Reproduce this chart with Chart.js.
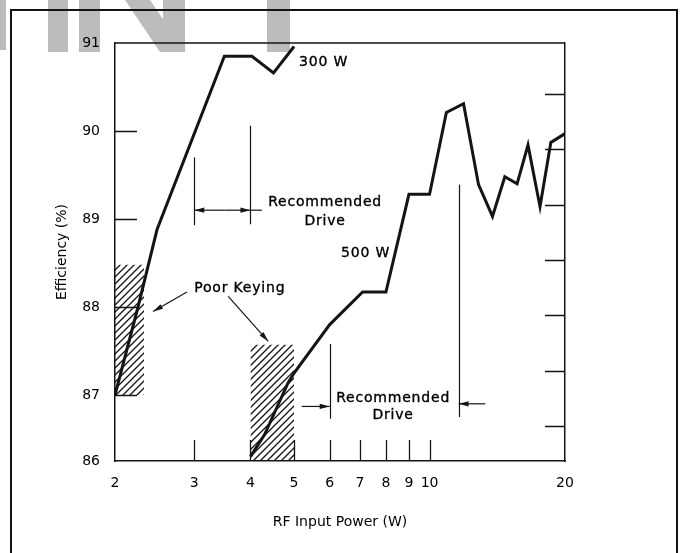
<!DOCTYPE html>
<html>
<head>
<meta charset="utf-8">
<script src="https://cdn.jsdelivr.net/npm/chart.js@4.4.1/dist/chart.umd.min.js"></script>
<style>
  html, body { margin: 0; padding: 0; background: #fff; }
  #wrap { width: 686px; height: 553px; }
</style>
</head>
<body>
<div id="wrap"><canvas id="effChart" width="686" height="553"></canvas></div>
<script>
// efficiency (%) against RF input power (W)
const power300 = [2, 2.25, 2.48, 3.5, 4.03, 4.5, 5.0];
const eff300 = [87.0, 88.0, 88.88, 90.85, 90.85, 90.66, 90.96];

const power500 = [4.0, 4.3, 4.85, 5.0, 6.0, 7.1, 8.0, 9.0, 10.0, 10.9, 11.9, 12.85, 13.8, 14.7, 15.65, 16.55, 17.6, 18.6, 20];
const eff500 = [86.3, 86.55, 87.14, 87.25, 87.8, 88.17, 88.17, 89.28, 89.28, 90.21, 90.31, 89.39, 89.03, 89.48, 89.4, 89.84, 89.14, 89.87, 89.97];

// hatched "poor keying" zones: [x from, x to, y from, y to]
const poorKeying300 = [2, 2.32, 87, 88.48];
const poorKeying500 = [4, 5, 86.25, 87.57];

const xTickValues = [2, 3, 4, 5, 6, 7, 8, 9, 10, 20];
const xInnerTicks = [3, 4, 5, 6, 7, 8, 9, 10];
// the printed axis squeezes 86..87, so the bottom edge carries the "86" label
const yTickValues = [86.25, 87, 88, 89, 90, 91];
const yTickLabels = ['86', '87', '88', '89', '90', '91'];
const yInnerTicks = [87, 88, 89, 90];
const rightTickValues = [0, 1, 2, 3, 4, 5, 6];

const INK = '#141414';
Chart.defaults.font.family = '"DejaVu Sans", sans-serif';
Chart.defaults.font.size = 14;
Chart.defaults.color = '#000';

function makeHatch() {
  const c = document.createElement('canvas');
  c.width = 7; c.height = 7;
  const g = c.getContext('2d');
  g.strokeStyle = INK;
  g.lineWidth = 1.3;
  g.beginPath();
  g.moveTo(-1, 8); g.lineTo(8, -1);
  g.moveTo(-1, 1); g.lineTo(1, -1);
  g.moveTo(6, 8); g.lineTo(8, 6);
  g.stroke();
  return g.createPattern(c, 'repeat');
}
const hatch = makeHatch();

function toPoints(xs, ys) {
  return xs.map((x, i) => ({ x: x, y: ys[i] }));
}

// notes drawn on top of the plot, placed in data coordinates
const notes = [
  { text: '300 W', x: 5.13, y: 90.78, align: 'left' },
  { text: '500 W', x: 6.36, y: 88.61, align: 'left' },
  { text: 'Poor Keying', x: 3.0, y: 88.21, align: 'left' },
  { text: 'Recommended', x: 5.86, y: 89.19, align: 'center' },
  { text: 'Drive', x: 5.86, y: 88.97, align: 'center' },
  { text: 'Recommended', x: 8.3, y: 86.96, align: 'center' },
  { text: 'Drive', x: 8.3, y: 86.77, align: 'center' }
];
const markers = [
  { x: 3, y1: 88.93, y2: 89.70 },
  { x: 4, y1: 88.94, y2: 90.06 },
  { x: 6, y1: 86.73, y2: 87.58 },
  { x: 11.6, y1: 86.75, y2: 89.39 }
];
const arrows = [
  { from: [3.5, 89.1], to: [3, 89.1] },
  { from: [3.5, 89.1], to: [4, 89.1] },
  { from: [4, 89.1], to: [4.24, 89.1], plain: true },
  { from: [5.2, 86.87], to: [6, 86.87] },
  { from: [13.3, 86.9], to: [11.6, 86.9] },
  { from: [2.89, 88.17], to: [2.43, 87.95] },
  { from: [3.57, 88.12], to: [4.38, 87.61] }
];

const pageFrame = {
  id: 'pageFrame',
  beforeDraw(chart) {
    const ctx = chart.ctx;
    ctx.save();
    ctx.fillStyle = '#fff';
    ctx.fillRect(0, 0, chart.width, chart.height);
    // grey lettering bleeding in from the page above
    ctx.fillStyle = '#bcbcbc';
    ctx.fillRect(0, 0, 6, 50);
    ctx.fillRect(48, 0, 20, 52);
    ctx.fillRect(79, 0, 21, 52);
    ctx.beginPath();
    ctx.moveTo(125, 0); ctx.lineTo(150, 0); ctx.lineTo(185, 52); ctx.lineTo(160, 52);
    ctx.closePath(); ctx.fill();
    ctx.fillRect(163, 0, 22, 52);
    ctx.fillRect(267, 0, 23, 52);
    // outer frame
    ctx.strokeStyle = INK;
    ctx.lineWidth = 2;
    ctx.beginPath();
    ctx.moveTo(11, chart.height); ctx.lineTo(11, 10); ctx.lineTo(677, 10); ctx.lineTo(677, chart.height);
    ctx.stroke();
    ctx.restore();
  }
};

const innerTicks = {
  id: 'innerTicks',
  beforeDatasetsDraw(chart) {
    const { ctx, chartArea: a } = chart;
    const { x, y, y2 } = chart.scales;
    ctx.save();
    ctx.strokeStyle = INK;
    ctx.lineWidth = 1.3;
    ctx.beginPath();
    xInnerTicks.forEach(v => {
      const p = Math.round(x.getPixelForValue(v)) + 0.5;
      ctx.moveTo(p, a.bottom); ctx.lineTo(p, a.bottom - 21);
    });
    yInnerTicks.forEach(v => {
      const p = Math.round(y.getPixelForValue(v)) + 0.5;
      ctx.moveTo(a.left, p); ctx.lineTo(a.left + 22, p);
    });
    rightTickValues.forEach(v => {
      const p = Math.round(y2.getPixelForValue(v)) + 0.5;
      ctx.moveTo(a.right, p); ctx.lineTo(a.right - 20, p);
    });
    ctx.moveTo(a.left, a.top); ctx.lineTo(a.right, a.top);
    ctx.stroke();
    ctx.restore();
  }
};

const callouts = {
  id: 'callouts',
  afterDatasetsDraw(chart) {
    const ctx = chart.ctx;
    const { x, y } = chart.scales;
    const px = (vx, vy) => [x.getPixelForValue(vx), y.getPixelForValue(vy)];
    ctx.save();
    ctx.strokeStyle = INK;
    ctx.fillStyle = INK;
    ctx.lineWidth = 1.2;
    markers.forEach(m => {
      const [mx, top] = px(m.x, m.y2);
      const bottom = y.getPixelForValue(m.y1);
      const xx = Math.round(mx) + 0.5;
      ctx.beginPath(); ctx.moveTo(xx, top); ctx.lineTo(xx, bottom); ctx.stroke();
    });
    arrows.forEach(ar => {
      const [x1, y1] = px(ar.from[0], ar.from[1]);
      const [x2, y2] = px(ar.to[0], ar.to[1]);
      ctx.beginPath(); ctx.moveTo(x1, y1); ctx.lineTo(x2, y2); ctx.stroke();
      if (ar.plain) return;
      const ang = Math.atan2(y2 - y1, x2 - x1);
      const len = 10, half = 2.6;
      ctx.beginPath();
      ctx.moveTo(x2, y2);
      ctx.lineTo(x2 - len * Math.cos(ang) + half * Math.sin(ang), y2 - len * Math.sin(ang) - half * Math.cos(ang));
      ctx.lineTo(x2 - len * Math.cos(ang) - half * Math.sin(ang), y2 - len * Math.sin(ang) + half * Math.cos(ang));
      ctx.closePath(); ctx.fill();
    });
    ctx.font = '14px "DejaVu Sans", sans-serif';
    ctx.letterSpacing = '0.8px';
    ctx.textBaseline = 'middle';
    ctx.fillStyle = '#000';
    ctx.strokeStyle = '#000';
    ctx.lineWidth = 0.35;
    notes.forEach(n => {
      const [tx, ty] = px(n.x, n.y);
      ctx.textAlign = n.align;
      ctx.fillText(n.text, tx, ty);
      ctx.strokeText(n.text, tx, ty);
    });
    ctx.restore();
  }
};

new Chart(document.getElementById('effChart'), {
  type: 'line',
  data: {
    datasets: [
      {
        label: '300 W',
        data: toPoints(power300, eff300),
        borderColor: INK, borderWidth: 3, borderJoinStyle: 'miter',
        pointRadius: 0, tension: 0, fill: false
      },
      {
        label: '500 W',
        data: toPoints(power500, eff500),
        borderColor: INK, borderWidth: 3, borderJoinStyle: 'miter',
        pointRadius: 0, tension: 0, fill: false
      },
      {
        label: 'poor keying 300 W',
        data: [{ x: poorKeying300[0], y: poorKeying300[3] }, { x: poorKeying300[1], y: poorKeying300[3] }],
        borderColor: 'transparent', borderWidth: 0, pointRadius: 0,
        backgroundColor: hatch, fill: { value: poorKeying300[2] }
      },
      {
        label: 'poor keying 500 W',
        data: [{ x: poorKeying500[0], y: poorKeying500[3] }, { x: poorKeying500[1], y: poorKeying500[3] }],
        borderColor: 'transparent', borderWidth: 0, pointRadius: 0,
        backgroundColor: hatch, fill: { value: poorKeying500[2] }
      }
    ]
  },
  options: {
    responsive: false,
    animation: false,
    devicePixelRatio: 1,
    layout: { padding: { top: 43, left: 0, right: 0, bottom: 0 } },
    plugins: { legend: { display: false }, tooltip: { enabled: false } },
    scales: {
      x: {
        type: 'logarithmic', position: 'bottom', min: 2, max: 20,
        afterBuildTicks: s => { s.ticks = xTickValues.map(v => ({ value: v })); },
        afterFit: s => { s.height = 92; },
        ticks: { callback: v => String(v), padding: 14, maxRotation: 0, autoSkip: false },
        grid: { display: false, drawTicks: false },
        border: { display: true, color: INK, width: 1.5 },
        title: { display: true, text: 'RF Input Power (W)', padding: { top: 0, bottom: 22 } }
      },
      y: {
        type: 'linear', position: 'left', min: 86.25, max: 91,
        afterBuildTicks: s => { s.ticks = yTickValues.map(v => ({ value: v })); },
        afterFit: s => { s.width = 115; },
        ticks: { callback: (v, i) => yTickLabels[i], padding: 15 },
        grid: { display: false, drawTicks: false },
        border: { display: true, color: INK, width: 1.5 },
        title: { display: true, text: 'Efficiency (%)', padding: { top: 54, bottom: 0 } }
      },
      y2: {
        type: 'linear', position: 'right', min: -0.633, max: 6.92,
        afterBuildTicks: s => { s.ticks = rightTickValues.map(v => ({ value: v })); },
        afterFit: s => { s.width = 121; },
        ticks: { display: false },
        grid: { display: false, drawTicks: false },
        border: { display: true, color: INK, width: 1.5 }
      }
    }
  },
  plugins: [pageFrame, innerTicks, callouts]
});
</script>
</body>
</html>
